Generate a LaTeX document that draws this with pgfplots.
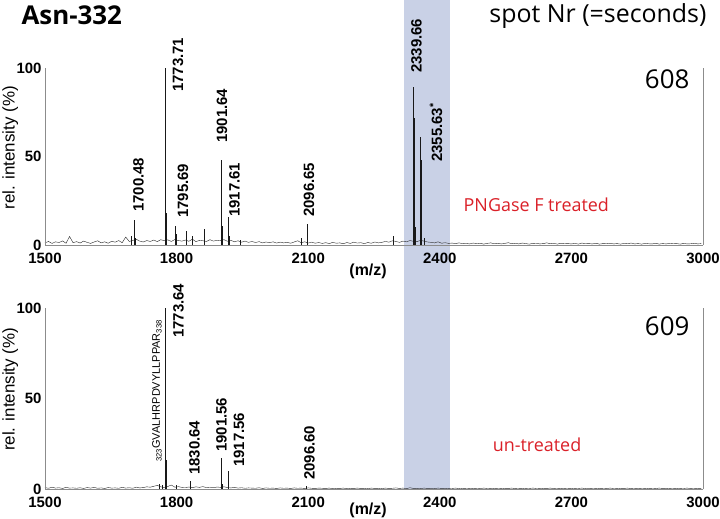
\documentclass[border=0pt]{standalone}
\usepackage{fontspec}
\setmainfont{Liberation Sans}
\newfontfamily\myriad{Open Sans}
\usepackage{pgfplots}
\pgfplotsset{compat=1.18}
\definecolor{bandcol}{RGB}{201,209,230}
\definecolor{myred}{RGB}{218,32,40}
\tikzset{plab/.style={rotate=90, anchor=west, inner sep=0pt, font=\fontsize{15}{15}\selectfont\bfseries}}
\pgfplotsset{spec/.style={
  scale only axis, width=658bp,
  xmin=1500, xmax=3000, ymin=0, ymax=100,
  axis x line*=bottom, axis y line*=left,
  axis line style={black!45, line width=0.5pt},
  xtick={1500,1800,2100,2400,2700,3000}, ytick={0,50,100},
  major tick length=0pt,
  tick label style={font=\fontsize{15}{15}\selectfont\bfseries},
  /pgf/number format/assume math mode=true,
  /pgf/number format/set thousands separator={},
  xticklabel style={yshift=-5bp},
  clip=false, axis on top,
  ylabel={rel. intensity (\%)},
  ylabel style={font=\fontsize{17}{17}\selectfont, at={(axis description cs:-0.053,0.55)}, anchor=center, rotate=0},
}}
\begin{document}
\begin{tikzpicture}
\path[use as bounding box] (0,0) rectangle (720bp,519bp);
% ---------------- top spectrum (608) ----------------
\begin{axis}[spec, height=177bp, at={(45bp,274bp)}, anchor=south west]
\fill[bandcol] (axis cs:2318,-137.9) rectangle (axis cs:2423,138.4);
\addplot[black!85, line width=0.4pt] coordinates {
(1500,1.2)(1508,2.0)(1516,0.9)(1524,1.8)(1532,1.4)(1540,2.3)(1548,1.0)(1556,4.8)(1564,1.3)(1572,1.9)
(1580,1.1)(1588,2.2)(1596,1.5)(1604,0.9)(1612,1.7)(1620,2.4)(1628,1.2)(1636,1.8)(1644,1.0)(1652,2.1)
(1660,1.6)(1668,2.5)(1676,1.3)(1684,4.5)(1692,2.0)(1700,2.6)(1708,3.2)(1716,2.2)(1724,1.7)(1732,2.5)
(1740,2.0)(1748,2.8)(1756,1.9)(1764,3.0)(1772,2.4)(1780,2.9)(1788,2.0)(1796,3.1)(1804,2.5)(1812,2.2)
(1820,2.8)(1828,2.1)(1836,3.3)(1844,1.9)(1852,2.6)(1860,2.4)(1868,2.0)(1876,3.0)(1884,2.2)(1892,2.7)
(1900,2.5)(1908,3.0)(1916,2.1)(1924,2.6)(1932,1.8)(1940,2.4)(1948,1.6)(1956,2.2)(1964,1.5)(1972,2.0)
(1980,1.4)(1988,1.9)(1996,1.2)(2004,1.7)(2012,1.3)(2020,1.8)(2028,1.1)(2036,1.6)(2044,1.2)(2052,1.5)
(2060,1.0)(2068,1.7)(2076,2.4)(2084,1.3)(2092,1.8)(2100,1.1)(2108,1.6)(2116,1.0)(2124,1.4)(2132,0.9)
(2140,1.3)(2148,0.8)(2156,1.5)(2164,1.0)(2172,1.2)(2180,0.7)(2188,1.4)(2196,0.9)(2204,1.6)(2212,1.1)
(2220,1.3)(2228,0.8)(2236,1.4)(2244,1.0)(2252,1.7)(2260,1.2)(2268,1.5)(2276,2.0)(2284,1.6)(2292,2.4)
(2300,2.0)(2308,1.5)(2316,2.2)(2324,1.8)(2332,2.5)(2340,2.1)(2348,1.9)(2356,2.6)(2364,2.2)(2372,1.7)
(2380,1.5)(2388,1.2)(2396,1.8)(2404,1.0)(2412,1.3)(2420,0.9)(2428,1.1)(2436,0.8)(2444,1.2)(2452,0.7)
(2460,0.9)(2468,0.6)(2476,1.1)(2484,0.8)(2492,1.0)(2500,0.5)(2508,0.9)(2516,1.2)(2524,0.7)(2532,1.0)
(2540,0.6)(2548,0.9)(2556,1.3)(2564,0.7)(2572,1.0)(2580,0.6)(2588,1.1)(2596,0.8)(2604,0.5)(2612,0.9)
(2620,1.0)(2628,0.6)(2636,0.8)(2644,1.2)(2652,0.7)(2660,0.9)(2668,0.5)(2676,1.0)(2684,0.7)(2692,0.8)
(2700,0.6)(2708,0.9)(2716,0.5)(2724,1.1)(2732,0.7)(2740,0.8)(2748,0.6)(2756,1.0)(2764,0.5)(2772,0.8)
(2780,0.7)(2788,1.0)(2796,0.6)(2804,0.8)(2812,0.5)(2820,0.9)(2828,0.7)(2836,1.1)(2844,0.6)(2852,0.8)
(2860,0.5)(2868,0.9)(2876,0.7)(2884,0.6)(2892,1.0)(2900,0.5)(2908,0.8)(2916,0.6)(2924,0.9)(2932,0.7)
(2940,0.8)(2948,0.5)(2956,0.9)(2964,0.6)(2972,0.7)(2980,1.0)(2988,0.6)(2996,0.8)};
\addplot[ycomb, black!90, line width=0.45pt] coordinates {
(1697,5)(1703,14)(1704,9)(1705,4)(1773.7,100)(1774.7,43)(1775.7,18)(1776.7,7)
(1798,11)(1799,6)(1821,8)(1822,4)(1835,5)(1862,9)(1863,5)
(1901.6,48)(1902.6,30)(1903.6,11)(1905,6)(1917.6,16)(1918.6,10)(1919.6,5)(1945,3)
(2085,4)(2096.7,12)(2097.7,8)(2098.7,4)(2293,5)
(2338.7,25)(2339.7,89)(2340.7,72)(2341.7,48)(2342.7,25)(2343.7,10)
(2354.6,12)(2355.6,61)(2356.6,48)(2357.6,28)(2358.6,12)(2365,4)};
\draw[black!45, line width=0.5pt] (rel axis cs:1,0) -- (rel axis cs:1,1);
\node[plab] at (axis cs:1713.1,18.6) {1700.48};
\node[plab] at (axis cs:1803.2,86.4) {1773.71};
\node[plab] at (axis cs:1814.6,15.3) {1795.69};
\node[plab] at (axis cs:1903.5,57.6) {1901.64};
\node[plab] at (axis cs:1932,15.8) {1917.61};
\node[plab] at (axis cs:2101.8,15.8) {2096.65};
\node[plab] at (axis cs:2346.9,97.2) {2339.66};
\node[plab] at (axis cs:2391.3,46.9) {2355.63\textsuperscript{*}};
\node[font=\fontsize{16}{16}\selectfont\bfseries] at (axis description cs:0.491,-0.147) {(m/z)};
\node[anchor=east, font=\myriad\fontsize{26}{26}\selectfont] at (axis cs:2977,93.8) {608};
\node[font=\myriad\fontsize{18}{18}\selectfont, text=myred] at (axis cs:2620,22.6) {PNGase F treated};
\node[anchor=west, font=\myriad\fontsize{26}{26}\selectfont\bfseries] at (axis description cs:-0.041,1.30) {Asn-332};
\node[anchor=east, font=\myriad\fontsize{25}{25}\selectfont] at (axis description cs:1.0106,1.294) {spot Nr (=seconds)};
\end{axis}
% ---------------- bottom spectrum (609) ----------------
\begin{axis}[spec, height=181bp, at={(45bp,30bp)}, anchor=south west]
\addplot[black!85, line width=0.4pt] coordinates {
(1500,0.8)(1508,0.4)(1516,1.0)(1524,0.5)(1532,0.7)(1540,0.3)(1548,0.9)(1556,0.5)(1564,0.6)(1572,0.4)
(1580,0.7)(1588,0.3)(1596,0.8)(1604,0.5)(1612,0.9)(1620,0.4)(1628,0.6)(1636,0.3)(1644,0.8)(1652,0.5)
(1660,0.6)(1668,0.4)(1676,0.9)(1684,0.5)(1692,0.7)(1700,0.4)(1708,1.0)(1716,0.6)(1724,0.8)(1732,1.2)
(1740,1.0)(1748,1.5)(1756,2.0)(1764,1.2)(1772,0.8)(1780,1.4)(1788,2.2)(1796,1.0)(1804,1.3)(1812,0.9)
(1820,0.8)(1828,1.1)(1836,0.7)(1844,1.2)(1852,0.9)(1860,1.3)(1868,0.8)(1876,1.0)(1884,0.7)(1892,1.1)
(1900,0.9)(1908,1.2)(1916,0.8)(1924,0.6)(1932,0.9)(1940,0.5)(1948,0.7)(1956,0.4)(1964,0.6)(1972,0.5)
(1980,0.4)(1988,0.7)(1996,0.3)(2004,0.6)(2012,0.4)(2020,0.5)(2028,0.3)(2036,0.6)(2044,0.4)(2052,0.5)
(2060,0.3)(2068,0.6)(2076,0.4)(2084,0.5)(2092,0.3)(2100,0.6)(2108,0.4)(2116,0.3)(2124,0.5)(2132,0.4)
(2140,0.3)(2148,0.5)(2156,0.2)(2164,0.4)(2172,0.3)(2180,0.5)(2188,0.2)(2196,0.4)(2204,0.3)(2212,0.5)
(2220,0.3)(2228,0.4)(2236,0.2)(2244,0.5)(2252,0.3)(2260,0.4)(2268,0.2)(2276,0.5)(2284,0.3)(2292,0.4)
(2300,0.6)(2308,0.3)(2316,0.5)(2324,0.2)(2332,0.7)(2340,0.3)(2348,0.4)(2356,0.2)(2364,0.5)(2372,0.3)
(2380,0.4)(2388,0.2)(2396,0.5)(2404,0.3)(2412,0.4)(2420,0.2)(2428,0.3)(2436,0.5)(2444,0.2)(2452,0.4)
(2460,0.3)(2468,0.2)(2476,0.4)(2484,0.3)(2492,0.2)(2500,0.5)(2508,0.3)(2516,0.2)(2524,0.4)(2532,0.3)
(2540,0.2)(2548,0.4)(2556,0.3)(2564,0.5)(2572,0.2)(2580,0.3)(2588,0.4)(2596,0.2)(2604,0.3)(2612,0.5)
(2620,0.3)(2628,0.2)(2636,0.4)(2644,0.3)(2652,0.5)(2660,0.2)(2668,0.3)(2676,0.4)(2684,0.2)(2692,0.3)
(2700,0.4)(2708,0.2)(2716,0.3)(2724,0.5)(2732,0.2)(2740,0.4)(2748,0.3)(2756,0.2)(2764,0.4)(2772,0.3)
(2780,0.2)(2788,0.5)(2796,0.3)(2804,0.2)(2812,0.4)(2820,0.3)(2828,0.5)(2836,0.2)(2844,0.3)(2852,0.4)
(2860,0.3)(2868,0.2)(2876,0.4)(2884,0.3)(2892,0.2)(2900,0.5)(2908,0.3)(2916,0.4)(2924,0.2)(2932,0.3)
(2940,0.4)(2948,0.2)(2956,0.3)(2964,0.5)(2972,0.2)(2980,0.3)(2988,0.4)(2996,0.3)};
\addplot[ycomb, black!90, line width=0.45pt] coordinates {
(1760,3)(1768,2)(1773.6,100)(1774.6,49)(1775.6,16)(1776.6,6)(1800,2)
(1830.6,4.6)(1831.6,2.5)(1901.6,17)(1902.6,9)(1903.6,3)(1917.6,10)(1918.6,5)(2096.6,1.5)};
\draw[black!45, line width=0.5pt] (rel axis cs:1,0) -- (rel axis cs:1,1);
\node[plab] at (axis cs:1804.3,83.4) {1773.64};
\node[plab, font=\fontsize{11}{11}\selectfont] at (axis cs:1755.3,14.9) {\textsubscript{323}GVALHRPDVYLLPPAR\textsubscript{338}};
\node[plab] at (axis cs:1840.8,7.7) {1830.64};
\node[plab] at (axis cs:1902.4,20.4) {1901.56};
\node[plab] at (axis cs:1942.2,12.2) {1917.56};
\node[plab] at (axis cs:2103,5) {2096.60};
\node[font=\fontsize{16}{16}\selectfont\bfseries] at (axis description cs:0.491,-0.116) {(m/z)};
\node[anchor=east, font=\myriad\fontsize{26}{26}\selectfont] at (axis cs:2977,90) {609};
\node[font=\myriad\fontsize{18}{18}\selectfont, text=myred] at (axis cs:2621.6,24.3) {un-treated};
\end{axis}
\end{tikzpicture}
\end{document}
